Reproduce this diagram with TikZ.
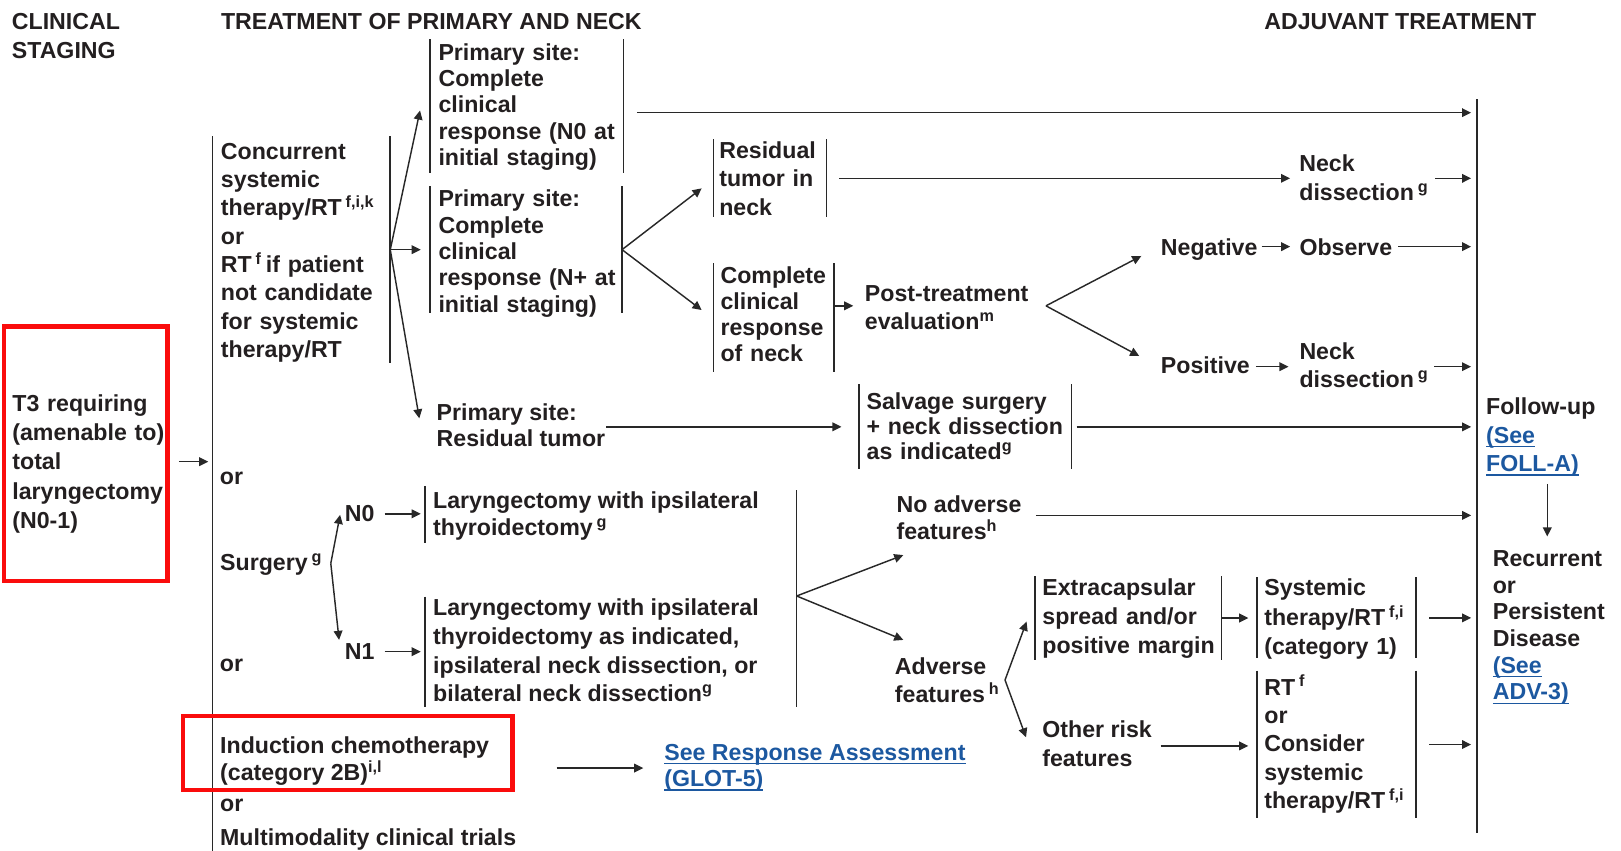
\documentclass[tikz,border=0pt]{standalone}
\usepackage{fontspec}
\setmainfont{Liberation Sans}
\usetikzlibrary{arrows.meta,calc}
\definecolor{ink}{RGB}{35,31,32}
\definecolor{rulec}{RGB}{40,40,40}
\definecolor{link}{RGB}{28,88,160}
\definecolor{flag}{RGB}{250,12,12}
% left-aligned stack of lines, baseline on the first line
\newcommand{\tb}[1]{\begin{tabular}[t]{@{}l@{}}#1\end{tabular}}
\newcommand{\sups}[1]{\smash{\textsuperscript{#1}}}
% link text with a close underline
\newcommand{\lk}[1]{{\color{link}\setbox0\hbox{#1}\rlap{\rule[-1.9pt]{\wd0}{0.6pt}}\box0}}
\begin{document}
\begin{tikzpicture}[x=0.5pt,y=-0.5pt,
  txt/.style={inner sep=0pt, outer sep=0pt, anchor=base west, text=ink,
              font=\bfseries\fontsize{11.2}{#1}\selectfont},
  txt/.default=13.7pt,
  bar/.style={draw=rulec, line width=0.8pt},
  arr/.style={draw=rulec, line width=0.7pt, -{Triangle[length=4.4pt,width=4.2pt]}},
  flagbox/.style={draw=flag, line width=2.1pt}
]
\useasboundingbox (0,0) rectangle (1568,823);

% ---------- column headings
\node[txt=14pt] (hstage) at (11.5,28.4) {\tb{CLINICAL\\STAGING}};
\node[txt] (htreat) at (213.8,28.4) {TREATMENT OF PRIMARY AND NECK};
\node[txt] (hadj) at (1223,28.4) {ADJUVANT TREATMENT};

% ---------- clinical staging
\node[txt=14.2pt, draw=flag, line width=2.1pt, inner xsep=4.15pt, text width=70.85pt,
      text height=40.9pt, text depth=82.15pt] (t3) at (3.7,397.6)
      {\tb{T3 requiring\\(amenable to)\\total\\laryngectomy\\(N0-1)}};

% main treatment bracket
\coordinate (mtop) at (205.7,132);
\coordinate (mbot) at (205.7,823);
\draw[bar] (mtop) -- (mbot);
\coordinate (min) at (201.5,446.6);
\draw[arr] (t3.east |- min) ++(11,0) -- (min);

% ---------- concurrent systemic therapy / RT
\node[txt=13.7pt, inner xsep=4pt, text width=77.9pt, text height=11pt, text depth=98.5pt]
  (conc) at (205.7,154)
  {\tb{Concurrent\\systemic\\therapy/RT\,\sups{f,i,k}\\or\\RT\,\sups{f}\,if patient\\not candidate\\for systemic\\therapy/RT}};
\draw[bar] (conc.north east) -- (conc.south east);

\node[txt=12.65pt, inner xsep=4.1pt, text width=85.3pt, text height=10.35pt, text depth=54.15pt]
  (pN0) at (416,58.7) {\tb{Primary site:\\Complete\\clinical\\response (N0 at\\initial staging)}};
\draw[bar] (pN0.north west) -- (pN0.south west) (pN0.north east) -- (pN0.south east);

\node[txt=12.75pt, inner xsep=4.1pt, text width=84.65pt, text height=10pt, text depth=51.5pt]
  (pNp) at (416,200) {\tb{Primary site:\\Complete\\clinical\\response (N+ at\\initial staging)}};
\draw[bar] (pNp.north west) -- (pNp.south west) (pNp.north east) -- (pNp.south east);

\node[txt=12.5pt] (resid) at (422.4,407) {\tb{Primary site:\\Residual tumor}};

\draw[arr] (conc.east) -- ($(pN0.west)+(-9.7,4.4)$);
\draw[arr] (conc.east) -- ($(pNp.west)+(-9,0)$);
\draw[arr] (conc.east) -- ($(resid.base west)+(-16.8,-2.3)$);

% ---------- neck response
\node[txt=13.7pt, inner xsep=2.9pt, text width=49pt, text height=9.2pt, text depth=28.5pt]
  (rneck) at (690,153.2) {\tb{Residual\\tumor in\\neck}};
\draw[bar] (rneck.north west) -- (rneck.south west) (rneck.north east) -- (rneck.south east);

\node[txt=12.5pt, inner xsep=3.5pt, text width=51.5pt, text height=10pt, text depth=42.4pt]
  (cneck) at (690,274.7) {\tb{Complete\\clinical\\response\\of neck}};
\draw[bar] (cneck.north west) -- (cneck.south west) (cneck.north east) -- (cneck.south east);

\node[txt=13.4pt] (post) at (836.7,291.8) {\tb{Post-treatment\\evaluation\sups{m}}};
\node[txt] (neg) at (1123,247.6) {Negative};
\node[txt] (pos) at (1123,361.1) {Positive};
\node[txt] (obs) at (1257,247.6) {Observe};
\node[txt=14pt] (nd1) at (1256.9,166) {\tb{Neck\\dissection\,\sups{g}}};
\node[txt=13.25pt] (nd2) at (1257,348.2) {\tb{Neck\\dissection\,\sups{g}}};

\node[txt=12.1pt, inner xsep=3.55pt, text width=95.6pt, text height=12.1pt, text depth=29pt]
  (salv) at (831.2,396) {\tb{Salvage surgery\\+ neck dissection\\as indicated\sups{g}}};
\draw[bar] (salv.north west) -- (salv.south west) (salv.north east) -- (salv.south east);

% ---------- adjuvant column
\coordinate (atop) at (1429,96);
\coordinate (abot) at (1429,806);
\draw[bar] (atop) -- (abot);
\coordinate (ain) at (1423,0);

\node[txt=13.7pt] (fol) at (1437.5,401.4) {\tb{Follow-up\\\lk{(See}\\\lk{FOLL-A)}}};
\node[txt=12.9pt] (rec) at (1444,548)
  {\tb{Recurrent\\or\\Persistent\\Disease\\\lk{(See}\\\lk{ADV-3)}}};

% connectors of the upper part
\draw[arr] ($(pN0.east)+(13,6.5)$) coordinate (a1) -- (a1 -| ain);
\draw[arr] (pNp.east) -- ($(rneck.west)+(-11.3,9.7)$);
\draw[arr] (pNp.east) -- ($(cneck.west)+(-11.3,-7.2)$);

\path (rneck.east) coordinate (ry);
\draw[arr, shorten <=6.2pt, shorten >=4.5pt] (ry) -- (ry -| nd1.west);
\draw[arr, shorten <=3.2pt] (ry -| nd1.east) -- (ry -| ain);

\coordinate (pa) at ($(post.west)+(-11.3,-4)$);
\draw[arr] (pa -| cneck.east) -- (pa);
\coordinate (pf) at ($(post.east)+(17,-4)$);
\draw[arr] (pf) -- ($(neg.base west)+(-19,0)$);
\draw[arr] (pf) -- ($(pos.base west)+(-21,-16.7)$);

\path ($(neg.base east)+(0,-9)$) coordinate (ny);
\draw[arr, shorten <=2pt, shorten >=4.5pt] (ny) -- (ny -| obs.west);
\draw[arr, shorten <=3pt] (ny -| obs.east) -- (ny -| ain);

\path ($(pos.base east)+(0,-6.4)$) coordinate (py);
\draw[arr, shorten <=2.9pt, shorten >=5.3pt] (py) -- (py -| nd2.west);
\draw[arr, shorten <=2.5pt] (py -| nd2.east) -- (py -| ain);

\draw[arr, shorten <=0.5pt, shorten >=8.6pt] (resid.east |- salv.west) -- (salv.west);
\draw[arr, shorten <=2.45pt] (salv.east) -- (salv.east -| ain);

\coordinate (fd) at ($(fol.south)+(6.3,3.6)$);
\coordinate (rt) at ($(rec.north)+(0,-11)$);
\draw[arr] (fd) -- (fd |- rt);

% ---------- surgery
\node[txt] (or1) at (212.8,469) {or};
\node[txt] (surg) at (213,552) {Surgery\,\sups{g}};
\node[txt] (or2) at (212.8,649.7) {or};
\node[txt] (n0) at (333.7,504.6) {N0};
\node[txt] (n1) at (333.7,638.4) {N1};

\coordinate (sf) at ($(surg.base east)+(8,-7)$);
\draw[arr] (sf) -- ($(n0.base west)+(-4.7,-6.6)$);
\draw[arr] (sf) -- ($(n1.base west)+(-5.7,-19.4)$);

\node[txt=13.25pt, inner xsep=4pt, text height=10.85pt, text depth=16.95pt]
  (lar0) at (411,491.7) {\tb{Laryngectomy with ipsilateral\\thyroidectomy\,\sups{g}}};
\draw[bar] (lar0.north west) -- (lar0.south west);
\node[txt=14pt, inner xsep=4pt, text height=8.9pt, text depth=44.3pt]
  (lar1) at (411,595) {\tb{Laryngectomy with ipsilateral\\thyroidectomy as indicated,\\ipsilateral neck dissection, or\\bilateral neck dissection\sups{g}}};
\draw[bar] (lar1.north west) -- (lar1.south west);

\path ($(n0.base east)+(9.7,-7.6)$) coordinate (n0y);
\draw[arr, shorten >=2pt] (n0y) -- (n0y -| lar0.west);
\path ($(n1.base east)+(9.7,-8)$) coordinate (n1y);
\draw[arr, shorten >=2pt] (n1y) -- (n1y -| lar1.west);

\coordinate (ltop) at (770.6,474);
\coordinate (lbot) at (770.6,683.6);
\coordinate (lmid) at (770.6,576.5);
\draw[bar] (ltop) -- (lbot);

\node[txt=13.05pt] (noadv) at (867.3,495.6) {\tb{No adverse\\features\sups{h}}};
\node[txt=13.85pt] (adv) at (865.7,652) {\tb{Adverse\\features\,\sups{h}}};
\draw[arr] (lmid) -- ($(noadv.south west)+(6.5,7.4)$);
\draw[arr] (lmid) -- ($(adv.north west)+(8.1,-13.6)$);

\path ($(noadv.base east)+(14,2.9)$) coordinate (nay);
\draw[arr] (nay) -- (nay -| ain);

\node[txt=14pt, inner xsep=3.55pt, text width=83.15pt, text height=9.5pt, text depth=31.1pt]
  (extra) at (1001.2,576.2) {\tb{Extracapsular\\spread and/or\\positive margin}};
\draw[bar] (extra.north west) -- (extra.south west) (extra.north east) -- (extra.south east);

\node[txt=14.25pt, inner xsep=3.7pt, text width=69.65pt, text height=9pt, text depth=30.15pt]
  (sysrt) at (1215.6,576.5) {\tb{Systemic\\therapy/RT\,\sups{f,i}\\(category 1)}};
\draw[bar] (sysrt.north west) -- (sysrt.south west) (sysrt.north east) -- (sysrt.south east);

\node[txt=13.9pt] (other) at (1008.3,713.2) {\tb{Other risk\\features}};

\node[txt=13.7pt, inner xsep=3.7pt, text width=69.65pt, text height=11.75pt, text depth=59.65pt]
  (rtblk) at (1215.6,672.3) {\tb{RT\,\sups{f}\\or\\Consider\\systemic\\therapy/RT\,\sups{f,i}}};
\draw[bar] (rtblk.north west) -- (rtblk.south west) (rtblk.north east) -- (rtblk.south east);

\coordinate (af) at ($(adv.base east)+(5,5.8)$);
\draw[arr] (af) -- ($(extra.west)+(-8.2,3.5)$);
\draw[arr] (af) -- ($(other.base west)+(-15.8,0)$);

\draw[arr, shorten >=4.05pt] (extra.east) -- (extra.east -| sysrt.west);
\draw[arr, shorten <=6.45pt] (sysrt.east) -- (sysrt.east -| ain);
\draw[arr, shorten <=4.3pt, shorten >=4.05pt] (other.east) -- (other.east -| rtblk.west);
\draw[arr, shorten <=6.45pt] (rtblk.east) -- (rtblk.east -| ain);

% ---------- induction chemotherapy and trials
\node[txt=13.15pt] (indu) at (213,728.7) {\tb{Induction chemotherapy\\(category 2B)\sups{i,l}}};
\draw[flagbox] ($(indu.base west)+(-35.7,-35.8)$) rectangle ($(indu.base west)+(282.6,35.5)$);

\node[txt=12.9pt] (resp) at (642.6,735.2) {\tb{\lk{See Response Assessment}\\\lk{(GLOT-5)}}};
\coordinate (ia) at ($(resp.west)+(-104.1,0)$);
\draw[arr, shorten >=10.15pt] (ia) -- (resp.west);

\node[txt] (or3) at (213,785) {or};
\node[txt] (multi) at (213,817.4) {Multimodality clinical trials};
\end{tikzpicture}
\end{document}
